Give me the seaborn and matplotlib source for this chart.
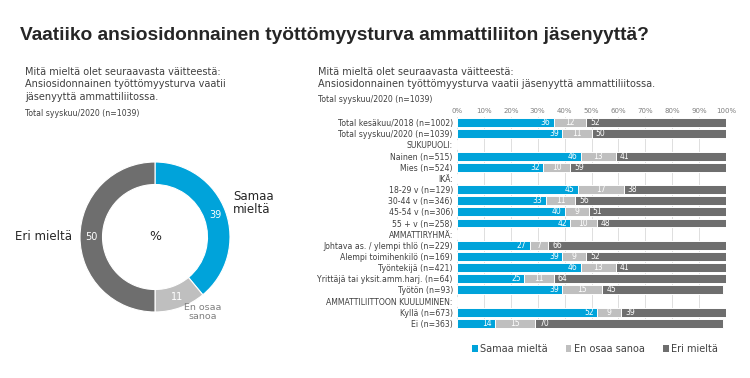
import numpy as np
import pandas as pd
import matplotlib
matplotlib.use("Agg")
import matplotlib.pyplot as plt
import seaborn as sns
from matplotlib.patches import Patch

# data
categories = [
    "Total kesäkuu/2018 (n=1002)",
    "Total syyskuu/2020 (n=1039)",
    "SUKUPUOLI:",
    "Nainen (n=515)",
    "Mies (n=524)",
    "IKÄ:",
    "18-29 v (n=129)",
    "30-44 v (n=346)",
    "45-54 v (n=306)",
    "55 + v (n=258)",
    "AMMATTIRYHMÄ:",
    "Johtava as. / ylempi thlö (n=229)",
    "Alempi toimihenkilö (n=169)",
    "Työntekijä (n=421)",
    "Yrittäjä tai yksit.amm.harj. (n=64)",
    "Työtön (n=93)",
    "AMMATTILIITTOON KUULUMINEN:",
    "Kyllä (n=673)",
    "Ei (n=363)",
]
samaa = [36, 39, None, 46, 32, None, 45, 33, 40, 42, None, 27, 39, 46, 25, 39, None, 52, 14]
en_osaa = [12, 11, None, 13, 10, None, 17, 11, 9, 10, None, 7, 9, 13, 11, 15, None, 9, 15]
eri = [52, 50, None, 41, 59, None, 38, 56, 51, 48, None, 66, 52, 41, 64, 45, None, 39, 70]

series_names = ["Samaa mieltä", "En osaa sanoa", "Eri mieltä"]
donut_labels = ["Samaa\nmieltä", "En osaa\nsanoa", "Eri mieltä"]
donut_values = [39, 11, 50]

title = "Vaatiiko ansiosidonnainen työttömyysturva ammattiliiton jäsenyyttä?"
question = "Mitä mieltä olet seuraavasta väitteestä:"
statement = "Ansiosidonnainen työttömyysturva vaatii jäsenyyttä ammattiliitossa."
base = "Total syyskuu/2020 (n=1039)"

blue = "#00A3DA"
light = "#BFBFBF"
dark = "#6E6E6E"
text_col = "#404040"

sns.set_style("white")
plt.rcParams['font.family'] = ['DejaVu Sans']

df = pd.DataFrame({'label': categories, 's': samaa, 'e': en_osaa, 'r': eri}).astype({'s': float, 'e': float, 'r': float})
df['c1'] = df['s']
df['c2'] = df['s'] + df['e']
df['c3'] = df['s'] + df['e'] + df['r']
df_plot = df.fillna(0)

fig = plt.figure(figsize=(7.5, 3.78), dpi=100)

# stacked bars
ax = fig.add_axes([457/750, 1-329/378, 269/750, 212/378])
for col, c in [('c3', dark), ('c2', light), ('c1', blue)]:
    sns.barplot(data=df_plot, x=col, y='label', order=categories, color=c,
                saturation=1, width=0.8, edgecolor='white', linewidth=0.7, ax=ax)

for i, row in df.iterrows():
    if pd.isna(row['s']):
        continue
    ax.text(row['c1'] - 1.2, i, f"{row['s']:.0f}", color='white', fontsize=5.5,
            ha='right', va='center')
    ax.text(row['c1'] + row['e'] / 2, i, f"{row['e']:.0f}", color='white', fontsize=5.5,
            ha='center', va='center')
    ax.text(row['c2'] + 1.5, i, f"{row['r']:.0f}", color='white', fontsize=5.5,
            ha='left', va='center')

ax.set_xlim(0, 100)
ax.set_xlabel("")
ax.set_ylabel("")
ax.xaxis.tick_top()
ax.set_xticks(range(0, 101, 10))
ax.set_xticklabels([f"{v}%" for v in range(0, 101, 10)])
ax.tick_params(axis='x', length=0, labelsize=5, labelcolor='#7F7F7F', pad=2)
ax.tick_params(axis='y', length=0, labelsize=5.6, labelcolor=text_col, pad=3)
ax.xaxis.grid(True, color='#D9D9D9', lw=0.6)
ax.set_axisbelow(True)
sns.despine(ax=ax, left=True, bottom=True, top=True, right=True)

handles = [Patch(facecolor=c, edgecolor='none') for c in [blue, light, dark]]
fig.legend(handles, series_names, loc='center', bbox_to_anchor=(595/750, 1-349/378),
           ncol=3, frameon=False, fontsize=7, handlelength=0.6, handleheight=0.6,
           handletextpad=0.3, columnspacing=1.8, labelcolor=text_col)

# donut
ax2 = fig.add_axes([80/750, 1-312/378, 150/750, 150/378])
wedges, _ = ax2.pie(donut_values, colors=[blue, light, dark], startangle=90, counterclock=False,
                    radius=1, wedgeprops=dict(width=0.3, edgecolor='white', linewidth=0.8))
ax2.set_xlim(-1, 1)
ax2.set_ylim(-1, 1)
ax2.set_aspect('equal')
for w, v in zip(wedges, donut_values):
    ang = np.deg2rad((w.theta1 + w.theta2) / 2)
    ax2.text(0.85 * np.cos(ang), 0.85 * np.sin(ang), str(v), color='white', fontsize=7,
             ha='center', va='center')
ax2.text(0, 0, "%", fontsize=9, ha='center', va='center', color='#262626')
ax2.text(1.04, 0.45, donut_labels[0], fontsize=8.5, ha='left', va='center', color='#262626',
         linespacing=1.0)
ax2.text(0.63, -1.0, donut_labels[1], fontsize=6.8, ha='center', va='center', color='#808080',
         linespacing=1.1)
ax2.text(-1.11, 0, donut_labels[2], fontsize=8.5, ha='right', va='center', color='#262626')

# texts
fig.text(20/750, 1-35/378, title, fontsize=13.8, fontweight='bold', va='center', color='#262626',
         family=['Liberation Sans Narrow', 'Liberation Sans', 'DejaVu Sans'])
fig.text(25/750, 1-67/378, question + "\nAnsiosidonnainen työttömyysturva vaatii\njäsenyyttä ammattiliitossa.",
         fontsize=7, va='top', color=text_col, linespacing=1.3)
fig.text(25/750, 1-113/378, base, fontsize=5.6, va='center', color=text_col)
fig.text(318/750, 1-67/378, question + "\n" + statement,
         fontsize=7, va='top', color=text_col, linespacing=1.3)
fig.text(318/750, 1-100/378, base, fontsize=5.6, va='center', color=text_col)

fig.savefig("out.png", dpi=100)
